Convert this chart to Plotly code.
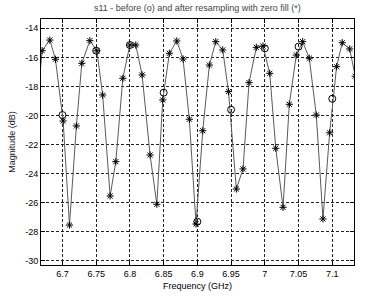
import plotly.graph_objects as go

# resampled (zero fill) points, '*'
freq_star = [6.6600, 6.6699, 6.6813, 6.6896, 6.7010, 6.7104, 6.7207, 6.7287, 6.7406, 6.7510,
             6.7596, 6.7707, 6.7791, 6.7895, 6.7999, 6.8087, 6.8181, 6.8299, 6.8399, 6.8487,
             6.8585, 6.8695, 6.8788, 6.8881, 6.8980, 6.9080, 6.9178, 6.9273, 6.9376, 6.9462,
             6.9578, 6.9677, 6.9766, 6.9874, 6.9973, 7.0073, 7.0162, 7.0270, 7.0363, 7.0467,
             7.0561, 7.0659, 7.0763, 7.0862, 7.0961, 7.1064, 7.1148, 7.1258, 7.1340]
mag_star = [-20.50, -15.54, -14.81, -16.13, -20.38, -27.54, -20.72, -16.41, -14.85, -15.54,
            -18.59, -25.54, -23.18, -17.44, -15.15, -15.15, -17.21, -22.72, -26.11, -18.93,
            -15.72, -14.87, -16.11, -20.26, -27.47, -21.05, -16.53, -14.92, -15.49, -18.36,
            -25.06, -23.68, -17.74, -15.31, -15.22, -17.10, -22.26, -26.32, -19.23, -15.84,
            -14.92, -16.06, -19.97, -27.12, -21.19, -16.64, -14.99, -15.42, -17.30]

# original samples, 'o'
freq_circ = [6.70, 6.75, 6.80, 6.85, 6.90, 6.95, 7.00, 7.05, 7.10]
mag_circ = [-19.97, -15.54, -15.15, -18.43, -27.31, -19.60, -15.38, -15.26, -18.85]

xtick_vals = [6.7, 6.75, 6.8, 6.85, 6.9, 6.95, 7.0, 7.05, 7.1]
xtick_text = ["6.7", "6.75", "6.8", "6.85", "6.9", "6.95", "7", "7.05", "7.1"]
ytick_vals = [-14, -16, -18, -20, -22, -24, -26, -28, -30]
ytick_text = ["-14", "-16", "-18", "-20", "-22", "-24", "-26", "-28", "-30"]

FONT = "Liberation Sans, Arial, sans-serif"

fig = go.Figure()
fig.add_trace(go.Scatter(
    x=freq_star, y=mag_star, mode="lines+markers",
    line=dict(color="#5a5a5a", width=1),
    marker=dict(symbol="asterisk-open", size=6, color="black",
                line=dict(color="black", width=1)),
    cliponaxis=True, showlegend=False))
fig.add_trace(go.Scatter(
    x=freq_circ, y=mag_circ, mode="markers",
    marker=dict(symbol="circle-open", size=7, color="black",
                line=dict(color="#222222", width=1)),
    showlegend=False))

axis_common = dict(
    showline=True, linecolor="black", linewidth=1, mirror="ticks",
    ticks="inside", ticklen=4, tickcolor="black",
    showgrid=True, gridcolor="#222222", gridwidth=1, griddash="3px,2px",
    zeroline=False, tickfont=dict(family=FONT, size=9, color="black"),
)

fig.update_xaxes(range=[6.6682, 7.1322], tickvals=xtick_vals, ticktext=xtick_text,
                 title=dict(text="Frequency (GHz)", font=dict(family=FONT, size=9, color="black"),
                            standoff=4),
                 **axis_common)
fig.update_yaxes(range=[-30.29, -13.36], tickvals=ytick_vals, ticktext=ytick_text,
                 title=dict(text="Magnitude (dB)", font=dict(family=FONT, size=9, color="#222222"),
                            standoff=8),
                 **axis_common)

fig.update_layout(
    width=371, height=300,
    margin=dict(l=41, r=17, t=19, b=35),
    paper_bgcolor="white", plot_bgcolor="white",
    title=dict(text="s11 - before (o) and after resampling with zero fill (*)",
               font=dict(family=FONT, size=9, color="#444444"),
               x=0.532, xanchor="center", y=0.975, yanchor="middle"),
)

fig.write_html("out.html")
